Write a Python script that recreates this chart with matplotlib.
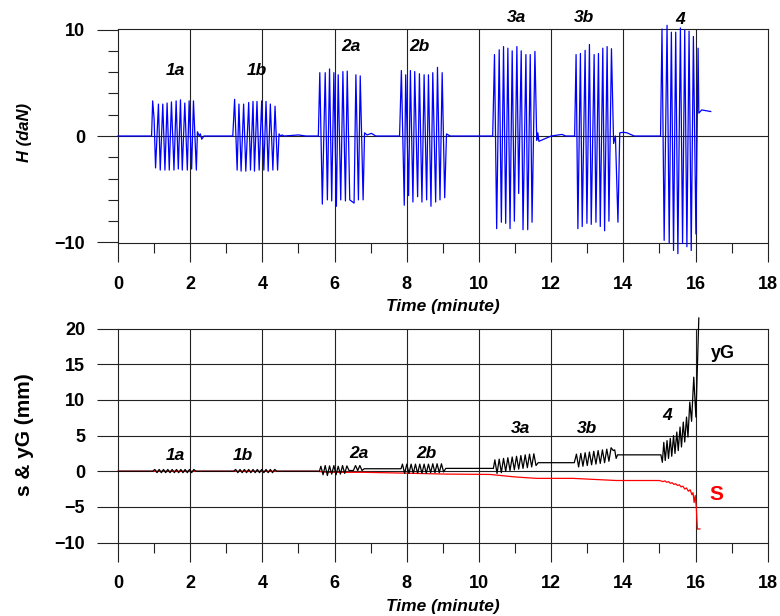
import numpy as np
import matplotlib.pyplot as plt
from matplotlib.ticker import MultipleLocator

plt.rcParams['font.family'] = ['Liberation Sans', 'DejaVu Sans']
plt.rcParams['font.weight'] = 'bold'

# ---- H (daN): alternating peak / trough samples ----
h0_t = [0.0, 0.93]
h0_v = [0.0, 0.0]
h1a_t = [0.96, 1.00, 1.04, 1.12, 1.17, 1.24, 1.30, 1.36, 1.42, 1.48, 1.55, 1.61, 1.67, 1.73,
         1.78, 1.85, 1.92, 1.97, 2.04, 2.09, 2.17, 2.20, 2.25, 2.28, 2.32, 2.38, 3.18]
h1a_v = [3.3, 1.6, -3.0, 3.0, -3.2, 3.0, -3.2, 3.1, -3.2, 3.2, -3.2, 3.3, -3.1, 3.4,
         -3.2, 3.1, -3.2, 3.3, -3.1, 3.3, -3.2, 0.4, 0.0, 0.2, -0.3, 0.0, 0.0]
h1b_t = [3.23, 3.30, 3.35, 3.41, 3.48, 3.54, 3.62, 3.67, 3.74, 3.78, 3.85, 3.91, 3.98, 4.04,
         4.10, 4.16, 4.22, 4.29, 4.35, 4.42, 4.46, 4.50, 4.55, 4.60, 5.00, 5.20, 5.55]
h1b_v = [3.45, -3.2, 3.0, -3.3, 3.0, -3.3, 3.15, -3.2, 3.25, -3.3, 3.25, -3.2, 3.3, -3.2,
         3.25, -3.3, 3.0, -3.2, 2.8, -3.2, 0.2, 0.0, 0.1, 0.0, 0.1, 0.0, 0.0]
h2a_t = [5.59, 5.66, 5.74, 5.80, 5.86, 5.92, 5.98, 6.05, 6.10, 6.17, 6.23, 6.30, 6.35, 6.42,
         6.54, 6.59, 6.66, 6.71, 6.79, 6.83, 6.90, 7.02, 7.14, 7.80]
h2a_v = [5.95, -6.4, 5.95, -6.0, 6.3, -6.1, 5.95, -6.6, 5.75, -6.0, 6.05, -6.1, 6.1, -6.0,
         -6.3, 5.75, -6.0, 5.65, -6.0, 0.3, 0.1, 0.25, 0.0, 0.0]
h2b_t = [7.85, 7.93, 7.97, 8.05, 8.10, 8.17, 8.22, 8.30, 8.35, 8.42, 8.48, 8.55, 8.60, 8.67,
         8.72, 8.80, 8.85, 8.92, 8.98, 9.05, 9.10, 9.20, 10.38]
h2b_v = [6.15, -6.5, 5.75, -5.6, 6.15, -6.2, 6.05, -5.7, 5.85, -6.2, 5.75, -6.0, 5.75, -6.6,
         5.95, -6.2, 6.45, -6.0, 5.95, -5.8, 0.2, 0.0, 0.0]
h3a_t = [10.43, 10.49, 10.56, 10.62, 10.68, 10.74, 10.80, 10.86, 10.92, 10.98, 11.05, 11.10,
         11.17, 11.22, 11.30, 11.35, 11.42, 11.47, 11.55, 11.60, 11.63, 11.66, 12.00, 12.30,
         12.40, 12.65]
h3a_v = [7.65, -8.7, 8.1, -8.1, 8.4, -8.2, 8.25, -8.7, 8.0, -8.0, 8.4, -5.4,
         8.0, -8.8, 7.65, -8.8, 7.65, -8.1, 7.95, -0.4, 0.3, -0.5, 0.0, 0.15,
         0.0, 0.0]
h3b_t = [12.69, 12.74, 12.81, 12.86, 12.94, 12.99, 13.06, 13.11, 13.19, 13.24, 13.31, 13.36,
         13.43, 13.48, 13.55, 13.60, 13.67, 13.73, 13.78, 13.85, 13.90, 14.00, 14.10, 14.30,
         15.03]
h3b_v = [7.65, -8.7, 7.75, -8.5, 8.05, -8.2, 8.6, -8.3, 7.65, -8.1, 7.75, -8.5,
         8.25, -8.9, 8.4, -8.0, 8.2, -0.7, 0.0, -8.1, 0.3, 0.35, 0.3, 0.0,
         0.0]
h4_t = [15.07, 15.13, 15.21, 15.27, 15.33, 15.39, 15.45, 15.51, 15.58, 15.64, 15.70, 15.76,
        15.82, 15.88, 15.94, 16.01, 16.07, 16.09, 16.17, 16.42]
h4_v = [10.05, -9.8, 10.4, -10.05, 9.75, -10.75, 9.75, -11.05, 10.15, -10.1, 9.95, -10.4,
        9.85, -10.75, 9.35, -9.2, 8.25, 2.15, 2.45, 2.3]

# ---- yG (mm) ----
yg0_t = [0.0, 0.96]
yg0_v = [0.0, 0.0]
yg1a_t = [1.02, 1.08, 1.14, 1.20, 1.26, 1.32, 1.38, 1.44, 1.50, 1.56, 1.62, 1.68, 1.74,
          1.80, 1.86, 1.92, 1.98, 2.04, 2.10, 2.16, 3.20]
yg1a_v = [0.25, -0.2, 0.25, -0.2, 0.25, -0.2, 0.25, -0.2, 0.25, -0.2, 0.25, -0.2, 0.25,
          -0.2, 0.25, -0.2, 0.25, -0.2, 0.25, 0.0, 0.0]
yg1b_t = [3.26, 3.32, 3.38, 3.44, 3.50, 3.56, 3.62, 3.68, 3.74, 3.80, 3.86, 3.92, 3.98,
          4.04, 4.10, 4.16, 4.22, 4.28, 4.34, 4.40, 5.58]
yg1b_v = [0.25, -0.2, 0.25, -0.2, 0.25, -0.2, 0.25, -0.2, 0.25, -0.2, 0.25, -0.2, 0.25,
          -0.2, 0.25, -0.2, 0.25, -0.2, 0.25, 0.0, 0.0]
yg2a_t = [5.62, 5.68, 5.74, 5.80, 5.86, 5.92, 5.98, 6.04, 6.10, 6.16, 6.22, 6.28, 6.34,
          6.40, 6.52, 6.58, 6.64, 6.70, 6.76, 6.82, 7.84]
yg2a_v = [0.7, -0.5, 0.8, -0.6, 0.75, -0.4, 0.8, -0.5, 0.7, -0.4, 0.8, -0.3, 0.75,
          0.1, 0.1, 0.8, 0.1, 0.8, 0.1, 0.35, 0.35]
yg2b_t = [7.88, 7.94, 8.00, 8.06, 8.12, 8.18, 8.24, 8.30, 8.36, 8.42, 8.48, 8.54, 8.60,
          8.66, 8.72, 8.78, 8.84, 8.90, 8.96, 9.02, 9.08, 10.40]
yg2b_v = [1.0, -0.3, 1.0, -0.3, 1.0, -0.3, 1.0, -0.3, 1.0, -0.3, 1.0, -0.3, 1.0,
          -0.2, 1.05, -0.2, 1.05, -0.2, 1.05, -0.1, 0.4, 0.4]
yg3a_t = [10.44, 10.50, 10.56, 10.62, 10.68, 10.74, 10.80, 10.86, 10.92, 10.98, 11.04,
          11.10, 11.16, 11.22, 11.28, 11.34, 11.40, 11.46, 11.52, 11.58, 11.64, 12.64]
yg3a_v = [1.6, -0.3, 1.7, -0.2, 1.8, 0.0, 1.9, 0.1, 2.0, 0.2, 2.1,
          0.3, 2.2, 0.4, 2.3, 0.5, 2.4, 0.6, 2.45, 0.8, 1.2, 1.2]
yg3b_t = [12.70, 12.76, 12.82, 12.88, 12.94, 13.00, 13.06, 13.12, 13.18, 13.24, 13.30,
          13.36, 13.42, 13.48, 13.54, 13.60, 13.66, 13.72, 13.76, 13.80, 13.84, 15.04]
yg3b_v = [2.4, 0.6, 2.5, 0.7, 2.6, 0.8, 2.7, 0.9, 2.8, 1.0, 2.9,
          1.1, 3.0, 1.2, 3.1, 1.4, 3.3, 2.9, 3.0, 1.8, 2.3, 2.3]
yg4_t = [15.08, 15.12, 15.16, 15.21, 15.25, 15.30, 15.34, 15.39, 15.43, 15.48, 15.52,
         15.57, 15.61, 15.66, 15.70, 15.75, 15.79, 15.84, 15.89, 15.95, 16.01, 16.09]
yg4_v = [1.25, 4.05, 1.5, 4.3, 1.8, 4.6, 2.1, 5.0, 2.5, 5.5, 2.9,
         6.2, 3.4, 6.9, 4.1, 7.6, 4.8, 9.7, 7.0, 13.2, 7.6, 21.5]

# ---- s (mm) ----
s_t = [0.0, 5.5, 5.8, 6.8, 7.8, 9.1, 10.3, 10.6, 11.0, 11.6, 12.6, 13.0, 13.4, 13.8,
       15.0, 15.1, 15.15, 15.2, 15.25, 15.3, 15.35, 15.4, 15.45, 15.5, 15.55, 15.6,
       15.65, 15.7, 15.75, 15.8, 15.85, 15.9, 15.93, 15.96, 15.99, 16.02, 16.05, 16.12]
s_v = [0.0, 0.0, -0.15, -0.15, -0.25, -0.4, -0.45, -0.6, -0.8, -1.0, -1.0, -1.1, -1.2, -1.3,
       -1.3, -1.45, -1.35, -1.55, -1.45, -1.7, -1.6, -1.85, -1.75, -2.0, -1.9, -2.2,
       -2.1, -2.5, -2.35, -2.8, -2.6, -3.3, -3.0, -4.4, -3.4, -5.0, -8.1, -8.1]

# test labels
top_labels = [('1a', 1.6, 6.2), ('1b', 3.85, 6.2), ('2a', 6.46, 8.45), ('2b', 8.34, 8.45),
              ('3a', 11.05, 11.1), ('3b', 12.9, 11.1), ('4', 15.56, 10.9)]
bot_labels = [('1a', 1.58, 2.2), ('1b', 3.45, 2.2), ('2a', 6.67, 2.5), ('2b', 8.53, 2.5),
              ('3a', 11.14, 5.95), ('3b', 12.99, 5.95), ('4', 15.21, 7.8)]

h_t = np.concatenate([h0_t, h1a_t, h1b_t, h2a_t, h2b_t, h3a_t, h3b_t, h4_t])
h_v = np.concatenate([h0_v, h1a_v, h1b_v, h2a_v, h2b_v, h3a_v, h3b_v, h4_v])
yg_t = np.concatenate([yg0_t, yg1a_t, yg1b_t, yg2a_t, yg2b_t, yg3a_t, yg3b_t, yg4_t])
yg_v = np.concatenate([yg0_v, yg1a_v, yg1b_v, yg2a_v, yg2b_v, yg3a_v, yg3b_v, yg4_v])

GRID = '#222222'

fig = plt.figure(figsize=(7.8, 6.16), dpi=100)
ax1 = fig.add_axes([0.1513, 0.6055, 0.8330, 0.3474])
ax2 = fig.add_axes([0.1513, 0.1193, 0.8330, 0.3471])


def style_x(ax):
    ax.set_xlim(0, 18)
    ax.xaxis.set_major_locator(MultipleLocator(2))
    ax.xaxis.set_minor_locator(MultipleLocator(1))
    ax.tick_params(axis='x', which='major', direction='out', length=13.7, width=0.8,
                   pad=10, labelsize=13, color=GRID)
    ax.tick_params(axis='x', which='minor', direction='out', length=7.2, width=0.8,
                   color=GRID)
    for xv in range(2, 18, 2):
        ax.axvline(xv, color=GRID, lw=0.8, zorder=1)
    for sp in ax.spines.values():
        sp.set_linewidth(0.8)
        sp.set_color(GRID)


# top panel: H
style_x(ax1)
ax1.set_ylim(-10.05, 10.05)
ax1.yaxis.set_major_locator(MultipleLocator(10))
ax1.yaxis.set_minor_locator(MultipleLocator(2))
ax1.tick_params(axis='y', which='major', direction='out', length=15, width=0.8,
                pad=8.6, labelsize=13, color=GRID)
ax1.tick_params(axis='y', which='minor', direction='out', length=7.2, width=0.8, color=GRID)
ax1.axhline(0, color=GRID, lw=0.8, zorder=1)
ax1.plot(h_t, h_v, color='#0000ff', lw=0.9, zorder=3, clip_on=False)
for txt, x, y in top_labels:
    ax1.text(x, y, txt, fontsize=12.5, fontweight='bold', fontstyle='italic',
             ha='center', va='center', clip_on=False)

# bottom panel: s & yG
style_x(ax2)
ax2.set_ylim(-10, 20)
ax2.yaxis.set_major_locator(MultipleLocator(5))
ax2.tick_params(axis='y', which='major', direction='out', length=15, width=0.8,
                pad=8.6, labelsize=13, color=GRID)
for yv in range(-5, 20, 5):
    ax2.axhline(yv, color=GRID, lw=0.8, zorder=1)
ax2.plot(s_t, s_v, color='#ff0000', lw=0.9, zorder=3)
ax2.plot(yg_t, yg_v, color='black', lw=0.9, zorder=4, clip_on=False)
for txt, x, y in bot_labels:
    ax2.text(x, y, txt, fontsize=12.5, fontweight='bold', fontstyle='italic',
             ha='center', va='center')
ax2.text(16.77, 16.5, 'yG', fontsize=13, fontweight='bold', ha='center', va='center')
ax2.text(16.58, -3.2, 'S', fontsize=15, fontweight='bold', color='#ff0000',
         ha='center', va='center')

# axis titles
fig.text(0.5678, 1 - 306 / 616, 'Time (minute)', fontsize=12.5, fontweight='bold',
         fontstyle='italic', ha='center', va='center')
fig.text(0.5678, 1 - 606 / 616, 'Time (minute)', fontsize=12.5, fontweight='bold',
         fontstyle='italic', ha='center', va='center')
fig.text(24 / 780, 1 - 133 / 616, 'H (daN)', fontsize=12, fontweight='bold',
         fontstyle='italic', rotation=90, ha='center', va='center')
fig.text(24 / 780, 1 - 435 / 616, 's & yG (mm)', fontsize=15, fontweight='bold',
         rotation=90, ha='center', va='center')

fig.savefig('out.png', dpi=100)
